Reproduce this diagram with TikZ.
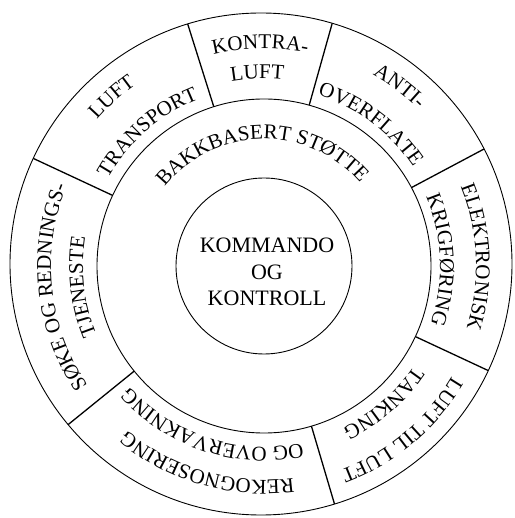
\documentclass[tikz,border=0pt]{standalone}
\usepackage{fontspec}
\setmainfont{Liberation Serif}
\usetikzlibrary{decorations.text}

\newcommand{\ringfont}{\fontsize{21}{21}\selectfont}
% text on an arc round the centre, clockwise, tops outward
\newcommand{\ringtext}[3]{%
  \path[decorate,decoration={text along path,text align=center,
    text={|\ringfont|#3}}]
    (#1+80:#2pt) arc[start angle=#1+80,end angle=#1-80,radius=#2pt];}

\begin{document}
\begin{tikzpicture}[x=1pt,y=1pt,
    ring/.style={draw=black,line width=0.9pt},
    divider/.style={draw=black,line width=1.3pt}]
  \useasboundingbox (-264,-252) rectangle (250,266);

  % circles
  \draw[ring] (-3,2) circle[radius=251pt];
  \draw[ring] (0,0) circle[radius=167pt];
  \draw[ring] (0,0) circle[radius=88pt];

  % dividers of the outer ring
  \foreach \ang in {107.5,74.3,28,-25,-73.5,-141,155}{
    \pgfmathsetmacro{\rout}{251-3*cos(\ang)+2*sin(\ang)}
    \draw[divider] (\ang:167pt) -- (\ang:\rout pt);
  }

  \node[align=center,font=\fontsize{22}{26.5}\selectfont] (core) at (3,-6)
    {KOMMANDO\\OG\\KONTROLL};

  \ringtext{91}{127}{BAKKBASERT STØTTE}

  \ringtext{91}{217}{KONTRA-}
  \ringtext{92}{187}{LUFT}
  \ringtext{53}{220}{ANTI-}
  \ringtext{53}{179}{OVERFLATE}
  \ringtext{2.5}{212}{ELEKTRONISK}
  \ringtext{2}{176}{KRIGFØRING}
  \ringtext{-50}{218}{LUFT TIL LUFT}
  \ringtext{-49}{180}{TANKING}
  \ringtext{-106}{214}{REKOGNOSERING}
  \ringtext{-108}{181}{OG OVERVAKNING}
  \ringtext{186}{213}{SØKE OG REDNINGS-}
  \ringtext{186.5}{181}{TJENESTE}
  \ringtext{132}{222}{LUFT}
  \ringtext{131}{179}{TRANSPORT}
\end{tikzpicture}
\end{document}
